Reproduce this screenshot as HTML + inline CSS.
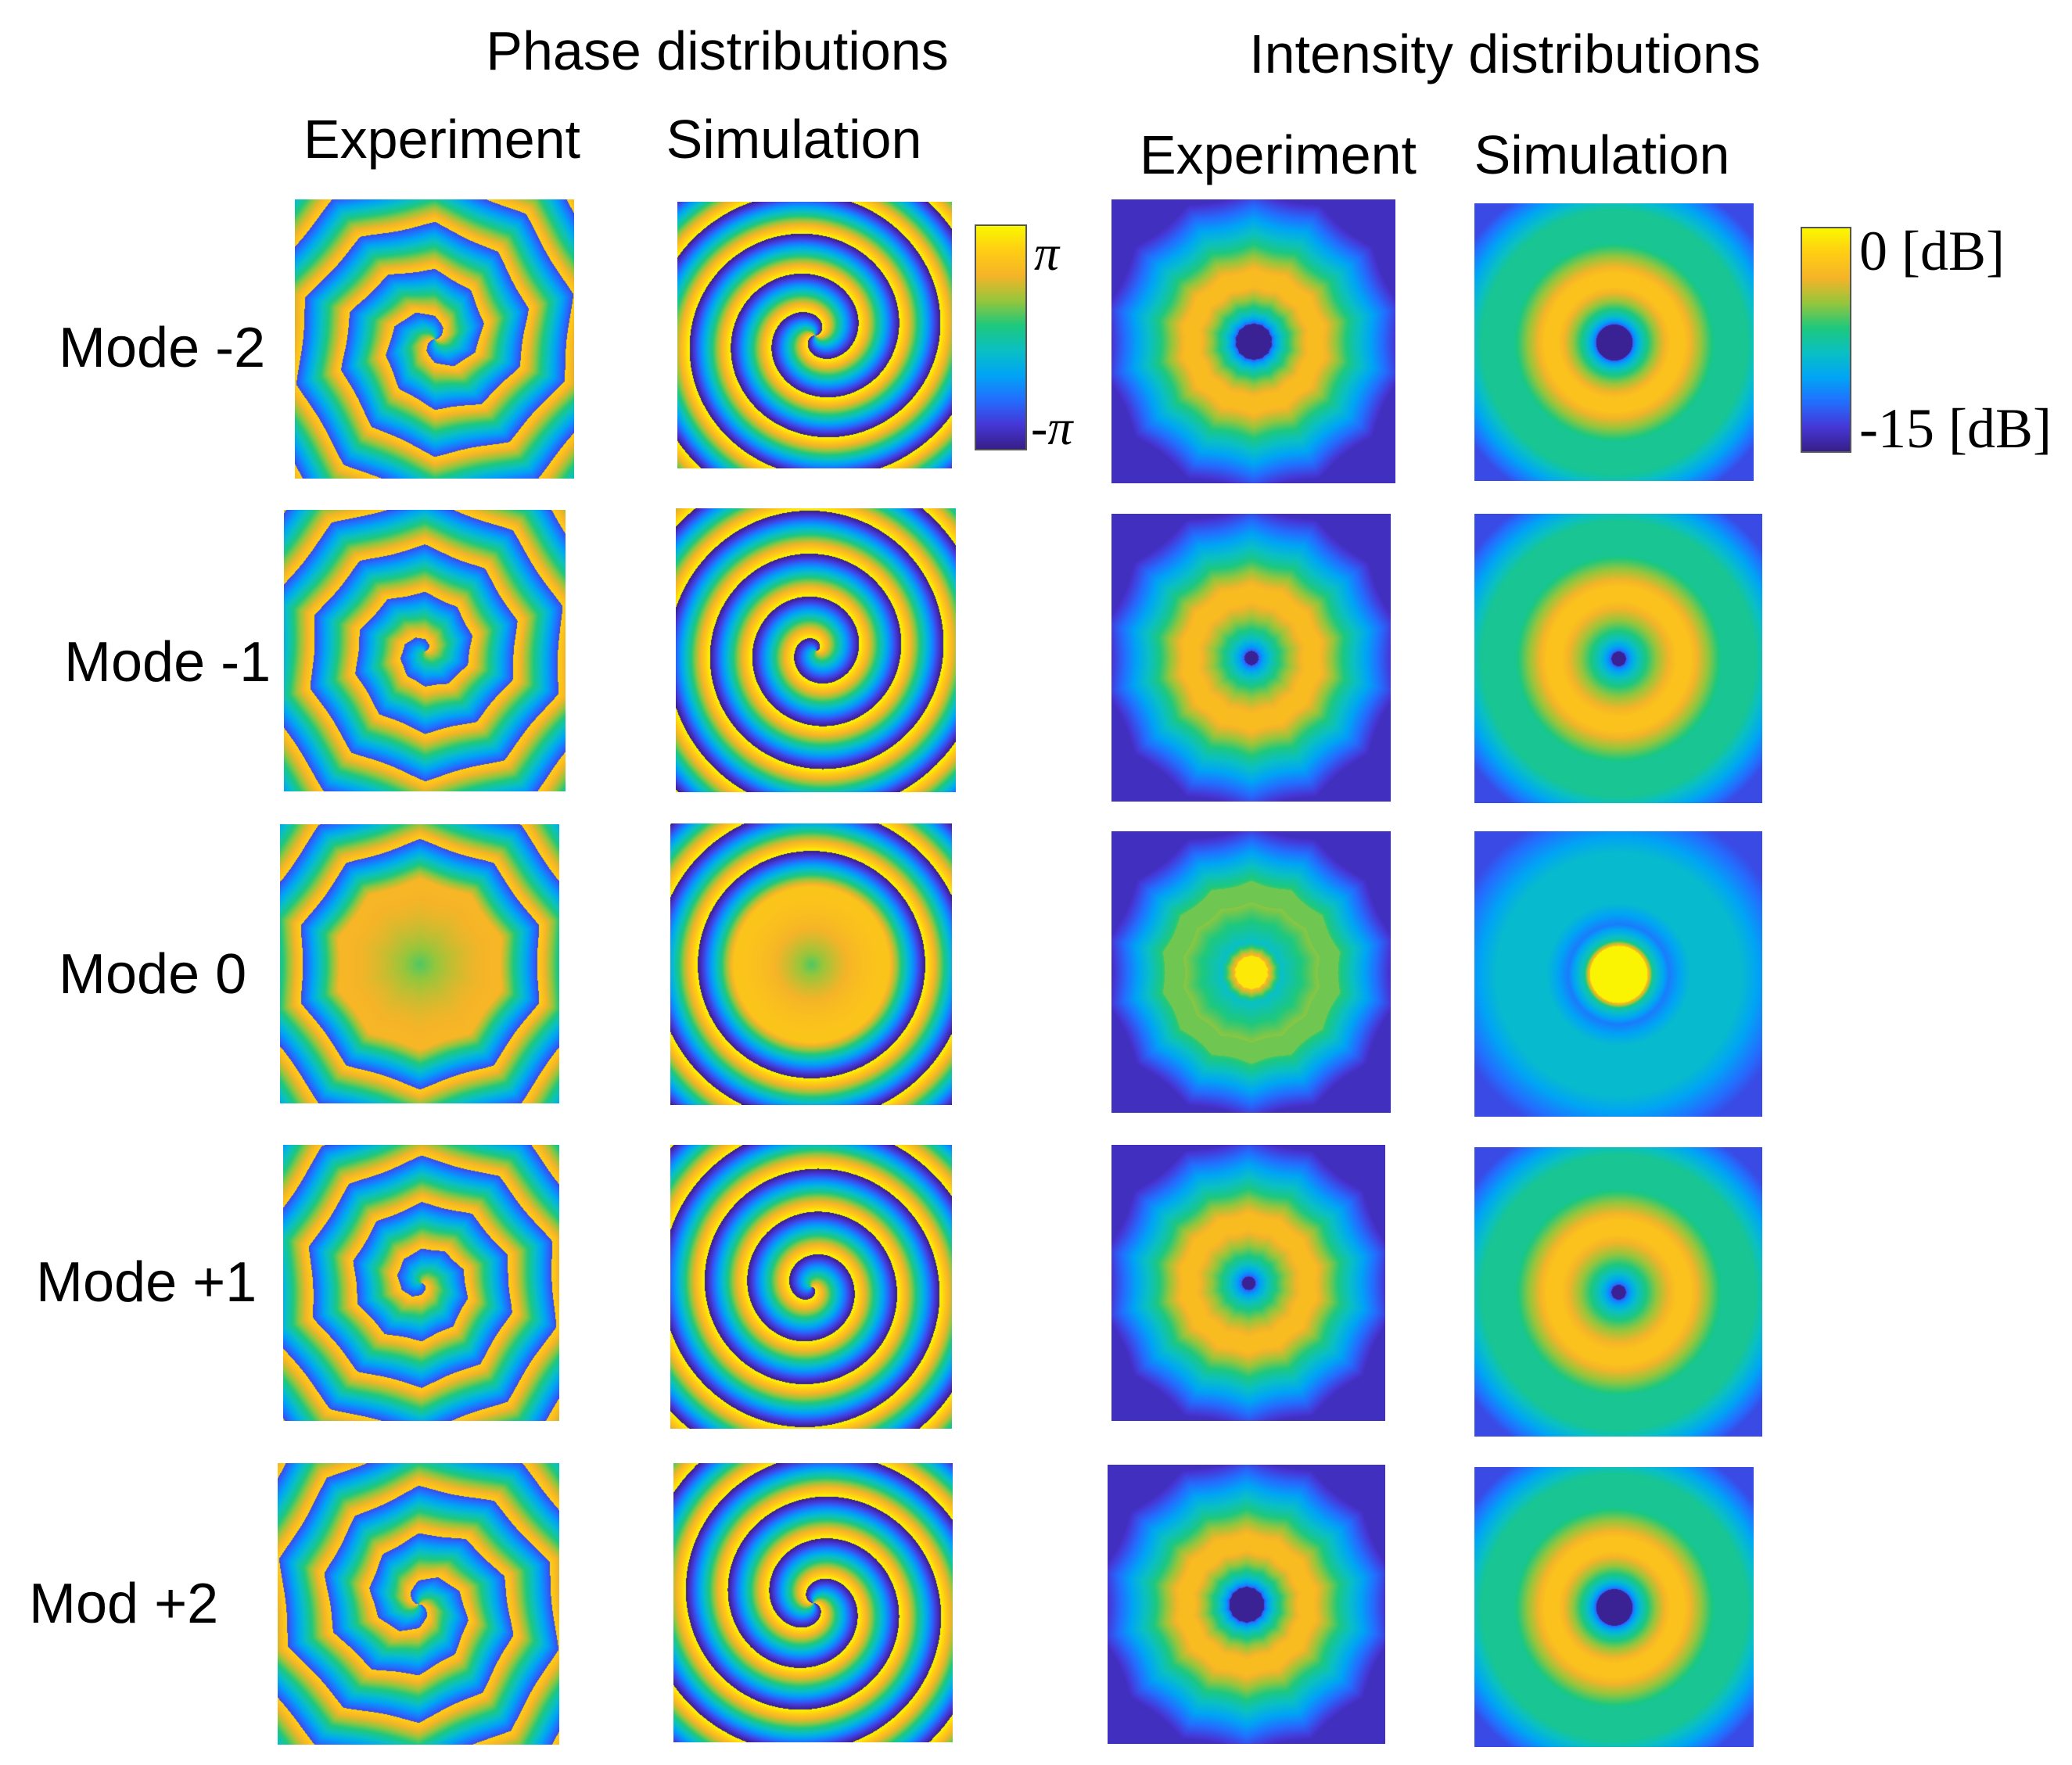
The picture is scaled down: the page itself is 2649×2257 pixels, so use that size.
<!DOCTYPE html>
<html><head><meta charset="utf-8"><style>
html,body{margin:0;padding:0;background:#fff;}
#root{position:relative;width:2649px;height:2257px;overflow:hidden;background:#fff;font-family:"Liberation Sans",sans-serif;color:#000;}
.t{position:absolute;white-space:nowrap;font-size:70px;transform:translateX(-50%);line-height:1;}
.lab{position:absolute;white-space:nowrap;font-size:72px;line-height:1;}
canvas{position:absolute;}
.serif{font-family:"Liberation Serif",serif;position:absolute;white-space:nowrap;line-height:1;}
</style></head><body>
<div id="root">
<div class="t" style="left:917px;top:30px">Phase distributions</div>
<div class="t" style="left:1924px;top:34px">Intensity distributions</div>
<div class="t" style="left:565px;top:143px">Experiment</div>
<div class="t" style="left:1015px;top:143px">Simulation</div>
<div class="t" style="left:1634px;top:163px">Experiment</div>
<div class="t" style="left:2048px;top:163px">Simulation</div>
<div class="serif" style="left:1322px;top:292px;font-size:64px;font-style:italic">π</div>
<div class="serif" style="left:1318px;top:515px;font-size:64px;font-style:italic">-π</div>
<div class="serif" style="left:2377px;top:285px;font-size:72px">0 [dB]</div>
<div class="serif" style="left:2377px;top:512px;font-size:72px">-15 [dB]</div>
</div>
<script>
const modes = [-2, -1, 0, 1, 2];
const modeLabels = ["Mode -2", "Mode -1", "Mode 0", "Mode +1", "Mod +2"];
const S = 1.698;
const root = document.getElementById('root');
const boxes = [
 [[222,150,432,360],[510,152,717,353],[837,150,1051,364],[1110,153,1320,362]],
 [[214,384,426,596],[509,383,720,597],[837,387,1047,604],[1110,387,1327,605]],
 [[211,621,421,831],[505,620,717,832],[837,626,1047,838],[1110,626,1327,841]],
 [[213,862,421,1070],[505,862,717,1076],[837,862,1043,1070],[1110,864,1327,1082]],
 [[209,1102,421,1314],[507,1102,717,1312],[834,1103,1043,1313],[1110,1105,1320,1316]]
];
const labelPos = [[44,263],[48,500],[44,735],[27,967],[22,1209]];
const cmap = [[55,30,135],[70,55,215],[35,110,255],[0,165,245],[10,192,195],[30,200,125],[150,198,60],[245,180,40],[255,205,20],[250,248,0]];
function col(v){v=Math.max(0,Math.min(0.9999,v));const f=v*(cmap.length-1);const i=Math.floor(f);const t=f-i;const a=cmap[i],b=cmap[i+1];return [a[0]+(b[0]-a[0])*t,a[1]+(b[1]-a[1])*t,a[2]+(b[2]-a[2])*t];}
function phaseVal(l,x,y){const r=Math.hypot(x,y);const th=Math.atan2(y,x);
 if(l===0){ if(r<0.55)return 0.85-0.25*(1-r/0.55)*(1-r/0.55);
   let p=0.85-3.3*(r-0.55);p=p-Math.floor(p);return p;}
 let p=(l*th - 2*Math.PI*3.3*r)/(2*Math.PI);p=p-Math.floor(p);return p;}
function lerp(a,b,t){return a+(b-a)*Math.max(0,Math.min(1,t));}
function intVal(l,x,y,exp){const r=Math.hypot(x,y);let v;
 if(l===0){
  if(exp){ if(r<0.12)v=0.99; else if(r<0.22)v=lerp(0.85,0.45,(r-0.12)/0.1); else if(r<0.5)v=lerp(0.45,0.68,(r-0.22)/0.28); else if(r<0.65)v=0.65; else v=lerp(0.6,0.08,(r-0.65)/0.4);}
  else { if(r<0.2)v=0.99; else if(r<0.24)v=lerp(0.85,0.5,(r-0.2)/0.04); else if(r<0.35)v=lerp(0.5,0.25,(r-0.24)/0.11); else if(r<0.5)v=lerp(0.25,0.42,(r-0.35)/0.15); else if(r<0.85)v=0.42; else v=lerp(0.42,0.15,(r-0.85)/0.35);}
 } else {
  const h=Math.abs(l)===2?0.13:0.05;
  if(r<h)v=0.02; else if(r<0.4)v=lerp(0.15,0.84,Math.pow((r-h)/(0.4-h),0.6));
  else if(r<0.5)v=0.84; else if(r<0.72)v=lerp(0.84,0.52,(r-0.5)/0.22);
  else if(exp) v=lerp(0.52,0.08,(r-0.72)/0.35);
  else if(r<0.95) v=0.52; else v=lerp(0.52,0.15,(r-0.95)/0.3);
 }
 return v;}
function drawPanel(row,k){const b=boxes[row][k];const l=modes[row];
 const W=Math.round((b[2]-b[0])*S),H=Math.round((b[3]-b[1])*S);
 const c=document.createElement('canvas');c.width=W;c.height=H;
 c.style.left=Math.round(b[0]*S)+'px';c.style.top=Math.round(b[1]*S)+'px';
 const names=['phase-experiment','phase-simulation','intensity-experiment','intensity-simulation'];
 
 
 const ctx=c.getContext('2d');const img=ctx.createImageData(W,H);const d=img.data;
 for(let j=0;j<H;j++)for(let i=0;i<W;i++){
  let x=(i/W)*2-1,y=(j/H)*2-1;let v;
  if(k===0){const th=Math.atan2(y,x);const r=Math.hypot(x,y);
    const ths=Math.round(th/(Math.PI/5))*(Math.PI/5);
    const rr=r*(1+0.07*Math.cos(5*(th-ths)));
    v=phaseVal(l,rr*Math.cos(th)*0.9,rr*Math.sin(th)*0.9);
    v=0.15+v*0.75;}
  else if(k===1)v=phaseVal(l,x,y);
  else if(k===2){const th=Math.atan2(y,x);const r=Math.hypot(x,y);const ths=Math.round(th/(Math.PI/7))*(Math.PI/7);
    const rr=r*(1+0.05*Math.cos(7*(th-ths)));v=intVal(l,rr*Math.cos(th),rr*Math.sin(th),true)*0.97;}
  else v=intVal(l,x,y,false);
  const cc=col(v);const o=(j*W+i)*4;d[o]=cc[0];d[o+1]=cc[1];d[o+2]=cc[2];d[o+3]=255;}
 ctx.putImageData(img,0,0);root.appendChild(c);}
for(let r=0;r<modes.length;r++){for(let k=0;k<4;k++)drawPanel(r,k);
 const lb=document.createElement('div');lb.className='lab';lb.textContent=modeLabels[r];
 lb.style.left=Math.round(labelPos[r][0]*S)+'px';lb.style.top=Math.round(labelPos[r][1]*S-38)+'px';
 
 
 root.appendChild(lb);}
function bar(x0,y0,x1,y1,name){const W=Math.round((x1-x0)*S),H=Math.round((y1-y0)*S);const c=document.createElement('canvas');c.width=W;c.height=H;
 c.style.left=Math.round(x0*S)+'px';c.style.top=Math.round(y0*S)+'px';c.style.outline='2px solid #555';
 
 
 const ctx=c.getContext('2d');for(let j=0;j<H;j++){const cc=col(1-j/H);ctx.fillStyle='rgb('+cc.map(Math.round).join(',')+')';ctx.fillRect(0,j,W,1);}root.appendChild(c);}
bar(735,170,772,338,'phase-colorbar');
bar(1357,172,1393,340,'intensity-colorbar');
</script>
</body></html>
